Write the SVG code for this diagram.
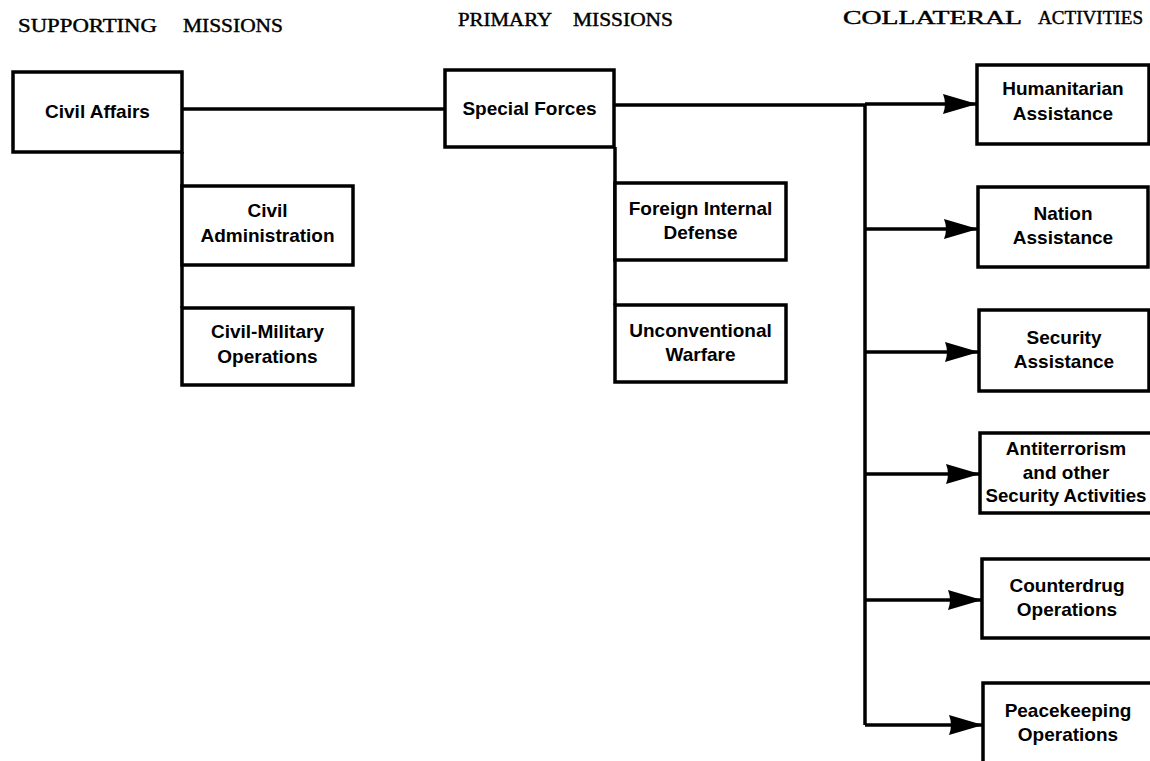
<svg xmlns="http://www.w3.org/2000/svg" width="1150" height="761" viewBox="0 0 1150 761">
<style>
.box{fill:#fff;stroke:#000;stroke-width:3.5}
.lbl{font-family:"Liberation Sans",Arial,sans-serif;font-weight:bold;font-size:19px;fill:#000;text-anchor:middle}
.hdr{font-family:"Liberation Serif","Times New Roman",serif;font-size:18px;fill:#000;stroke:#000;stroke-width:0.4}
.ln{fill:none;stroke:#000;stroke-width:3.5}
</style>
<defs>
<marker id="ah" markerUnits="userSpaceOnUse" markerWidth="40" markerHeight="24" refX="34" refY="12" orient="auto" viewBox="0 0 40 24">
<path d="M34,12 L0,2 Q4,12 0,22 Z" fill="#000"/>
</marker>
</defs>
<rect width="1150" height="761" fill="#fff"/>
<g id="headers">
<text class="hdr" x="18" y="32" textLength="139" lengthAdjust="spacingAndGlyphs">SUPPORTING</text>
<text class="hdr" x="183" y="32" textLength="100" lengthAdjust="spacingAndGlyphs">MISSIONS</text>
<text class="hdr" x="458" y="26" textLength="94" lengthAdjust="spacingAndGlyphs">PRIMARY</text>
<text class="hdr" x="573" y="26" textLength="100" lengthAdjust="spacingAndGlyphs">MISSIONS</text>
<text class="hdr" x="843" y="24" textLength="179" lengthAdjust="spacingAndGlyphs">COLLATERAL</text>
<text class="hdr" x="1038" y="24" textLength="105" lengthAdjust="spacingAndGlyphs">ACTIVITIES</text>
</g>
<g id="connectors">
<path class="ln" d="M182,109 H445"/>
<path class="ln" d="M182,152 V308"/>
<path class="ln" d="M615,147 V305"/>
<path class="ln" d="M614,105 H865"/>
<path class="ln" d="M865,104 V725"/>
<path class="ln" d="M865,104 H977" marker-end="url(#ah)"/>
<path class="ln" d="M865,229 H978" marker-end="url(#ah)"/>
<path class="ln" d="M865,352 H979" marker-end="url(#ah)"/>
<path class="ln" d="M865,474 H980" marker-end="url(#ah)"/>
<path class="ln" d="M865,600 H982" marker-end="url(#ah)"/>
<path class="ln" d="M865,725 H983" marker-end="url(#ah)"/>
</g>
<g id="civil-affairs">
<rect class="box" x="13" y="72" width="169" height="80"/>
<text class="lbl" x="97.5" y="118">Civil Affairs</text>
</g>
<g id="special-forces">
<rect class="box" x="445" y="70" width="169" height="77"/>
<text class="lbl" x="529.5" y="115">Special Forces</text>
</g>
<g id="civil-administration">
<rect class="box" x="182" y="186" width="171" height="79"/>
<text class="lbl" x="267.5" y="217">Civil</text>
<text class="lbl" x="267.5" y="242">Administration</text>
</g>
<g id="civil-military">
<rect class="box" x="182" y="308" width="171" height="77"/>
<text class="lbl" x="267.5" y="338">Civil-Military</text>
<text class="lbl" x="267.5" y="363">Operations</text>
</g>
<g id="foreign-internal-defense">
<rect class="box" x="615" y="183" width="171" height="77"/>
<text class="lbl" x="700.5" y="215">Foreign Internal</text>
<text class="lbl" x="700.5" y="239">Defense</text>
</g>
<g id="unconventional-warfare">
<rect class="box" x="615" y="305" width="171" height="77"/>
<text class="lbl" x="700.5" y="337">Unconventional</text>
<text class="lbl" x="700.5" y="361">Warfare</text>
</g>
<g id="humanitarian">
<rect class="box" x="977" y="65" width="172" height="79"/>
<text class="lbl" x="1063" y="95">Humanitarian</text>
<text class="lbl" x="1063" y="120">Assistance</text>
</g>
<g id="nation">
<rect class="box" x="978" y="187" width="170" height="80"/>
<text class="lbl" x="1063" y="220">Nation</text>
<text class="lbl" x="1063" y="244">Assistance</text>
</g>
<g id="security">
<rect class="box" x="979" y="310" width="170" height="81"/>
<text class="lbl" x="1064" y="344">Security</text>
<text class="lbl" x="1064" y="368">Assistance</text>
</g>
<g id="antiterrorism">
<rect class="box" x="980" y="433" width="172" height="80"/>
<text class="lbl" x="1066" y="455">Antiterrorism</text>
<text class="lbl" x="1066" y="479">and other</text>
<text class="lbl" x="1066" y="502" textLength="161" lengthAdjust="spacingAndGlyphs">Security Activities</text>
</g>
<g id="counterdrug">
<rect class="box" x="982" y="559" width="170" height="79"/>
<text class="lbl" x="1067" y="592">Counterdrug</text>
<text class="lbl" x="1067" y="616">Operations</text>
</g>
<g id="peacekeeping">
<rect class="box" x="983" y="683" width="170" height="90"/>
<text class="lbl" x="1068" y="717">Peacekeeping</text>
<text class="lbl" x="1068" y="741">Operations</text>
</g>
</svg>
